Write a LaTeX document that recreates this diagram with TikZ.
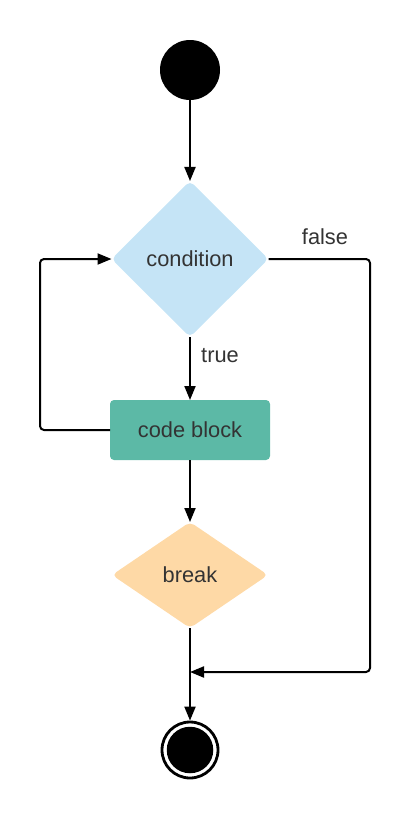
\documentclass[tikz,border=0pt]{standalone}
\usepackage{fontspec}
\setmainfont{Liberation Sans}
\usetikzlibrary{shapes.geometric,arrows.meta}
\definecolor{txt}{HTML}{333333}
\definecolor{condfill}{HTML}{C5E4F6}
\definecolor{codefill}{HTML}{5CB9A6}
\definecolor{brkfill}{HTML}{FED9A6}
\tikzset{
  lbl/.style={text=txt, font=\fontsize{21.8}{26}\selectfont},
  dia/.style={diamond, inner sep=0pt, outer sep=0pt, rounded corners=5pt, lbl},
  procbox/.style={rectangle, inner sep=0pt, outer sep=0pt, rounded corners=4pt, lbl,
    minimum width=160pt, minimum height=60pt, fill=codefill},
  conn/.style={line width=2pt, draw=black, rounded corners=4pt},
  arr/.style={conn, -{Triangle[length=14pt,width=11pt]}},
}
\begin{document}
\begin{tikzpicture}[x=1pt,y=-1pt]
\useasboundingbox (0,0) rectangle (420,820);
\node[circle, fill=black, minimum size=60pt, inner sep=0pt, outer sep=0pt] (start) at (190,70) {};
\node[dia, fill=condfill, minimum width=157pt, minimum height=156pt] (cond) at (190,259) {condition};
\node[procbox] (code) at (190,430) {code block};
\node[dia, fill=brkfill, minimum width=156pt, minimum height=106pt] (brk) at (190,575) {break};
\node[circle, draw=black, line width=2.8pt, fill=white, minimum size=56pt, inner sep=0pt, outer sep=1.4pt] (stop) at (190,750) {};
\node[circle, fill=black, minimum size=46.5pt, inner sep=0pt] (stopcore) at (stop) {};
\node[lbl] (falselbl) at (325,237) {false};
\node[lbl] (truelbl) at (220,356) {true};
\coordinate (fr) at (370,259);
\coordinate (lp) at (40,259);
\coordinate (merge) at (190,672);
\draw[arr] (start) -- (cond);
\draw[arr] (cond) -- (code);
\draw[arr] (code) -- (brk);
\draw[arr] (brk) -- (stop);
\draw[arr] (code.west) -| (lp) -- (cond.west);
\draw[arr] (cond.east) -- (fr) |- (merge);
\end{tikzpicture}
\end{document}
